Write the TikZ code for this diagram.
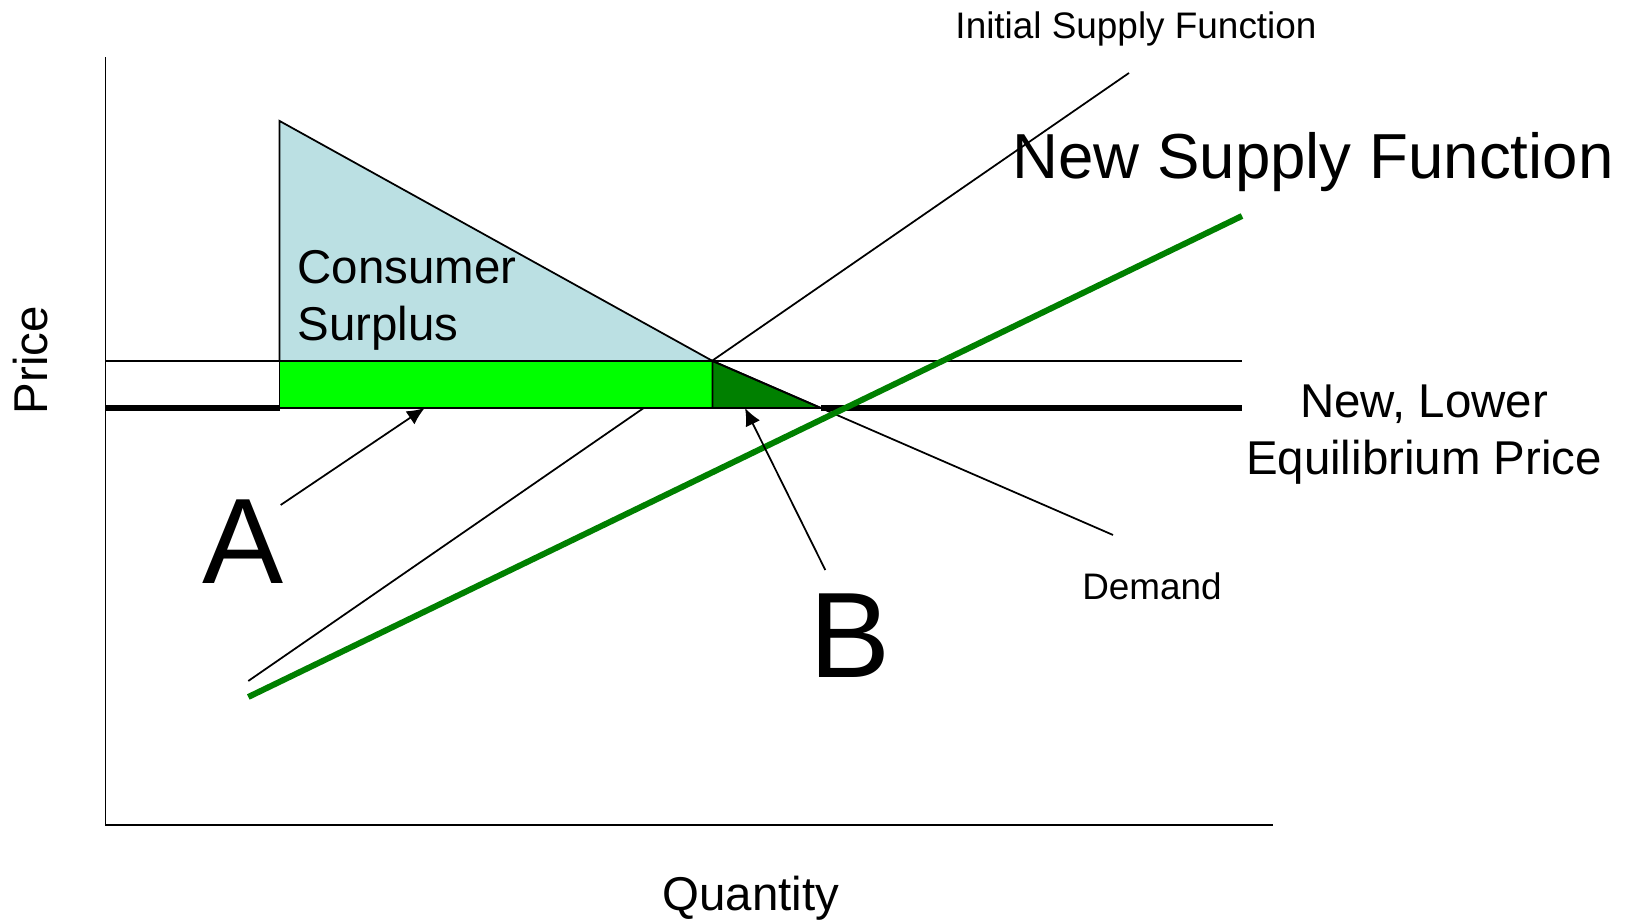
\documentclass[tikz,border=0pt]{standalone}
\usepackage{fontspec}
\setmainfont{Liberation Sans}
\usetikzlibrary{arrows.meta}

\definecolor{surplusblue}{RGB}{187,224,227}
\definecolor{lightgreen}{RGB}{0,255,0}
\definecolor{darkgreen}{RGB}{0,128,0}

\tikzset{
  thin line/.style={line width=0.5pt},
  thick line/.style={line width=1.5pt},
  supply line/.style={line width=1.7pt, darkgreen},
  pointer/.style={line width=0.5pt, -{Latex[length=5pt,width=4.5pt]}},
  small label/.style={inner sep=0pt, font=\fontsize{10.5}{12.6}\selectfont},
  mid label/.style={inner sep=0pt, align=center, font=\fontsize{13.5}{16.2}\selectfont},
  big label/.style={inner sep=0pt, font=\fontsize{18.1}{21.7}\selectfont},
  letter label/.style={inner sep=0pt, font=\fontsize{34.6}{41.5}\selectfont}
}

\begin{document}
\begin{tikzpicture}
\useasboundingbox (0, 0) rectangle (16.36, 9.22);

% axes
\coordinate (O) at (1.054, 0.97);
\coordinate (ytop) at (1.054, 8.646);
\coordinate (xend) at (12.73, 0.97);
\draw[thin line] (ytop) -- (O) -- (xend);

% price levels
\coordinate (p1left) at (1.054, 5.61);
\coordinate (p1right) at (12.42, 5.61);
\coordinate (p2left) at (1.054, 5.14);
\coordinate (p2right) at (12.42, 5.14);
\draw[thin line] (p1left) -- (p1right);

% initial supply
\coordinate (s1start) at (2.483, 2.41);
\coordinate (s1end) at (11.29, 8.49);
\draw[thin line] (s1start) -- (s1end);

% surplus areas
\coordinate (top) at (2.796, 8.01);
\coordinate (E) at (7.126, 5.61);
\coordinate (csleft) at (2.796, 5.61);
\coordinate (rectlow) at (2.796, 5.14);
\coordinate (Elow) at (7.126, 5.14);
\coordinate (Enew) at (8.21, 5.14);
\draw[thin line, fill=surplusblue] (top) -- (E) -- (csleft) -- cycle;
\draw[thin line, fill=lightgreen] (csleft) rectangle (Elow);
\draw[thin line, fill=darkgreen] (E) -- (Elow) -- (Enew) -- cycle;

% demand
\coordinate (dend) at (11.13, 3.87);
\draw[thin line] (E) -- (dend);

% lower price
\draw[thick line] (p2left) -- (rectlow);
\draw[thick line] (Enew) -- (p2right);

% new supply
\coordinate (s2start) at (2.483, 2.25);
\coordinate (s2end) at (12.42, 7.06);
\draw[supply line] (s2start) -- (s2end);

% labels
\node[mid label, rotate=90] (price) at (0.31, 5.62) {Price};
\node[mid label] (quantity) at (7.51, 0.24) {Quantity};
\node[mid label, align=left, anchor=west] (cs) at (2.97, 6.22) {Consumer\\Surplus};
\node[mid label] (newprice) at (14.24, 4.87) {New, Lower\\Equilibrium Price};
\node[small label] (initsupply) at (11.36, 8.93) {Initial Supply Function};
\node[big label] (newsupply) at (13.13, 7.60) {New Supply Function};
\node[small label] (demand) at (11.52, 3.36) {Demand};
\node[letter label] (A) at (2.43, 3.80) {A};
\node[letter label] (B) at (8.50, 2.86) {B};

% pointers
\coordinate (Atail) at (2.807, 4.17);
\coordinate (Ahead) at (4.247, 5.14);
\coordinate (Btail) at (8.253, 3.52);
\coordinate (Bhead) at (7.45, 5.14);
\draw[pointer] (Atail) -- (Ahead);
\draw[pointer] (Btail) -- (Bhead);

\end{tikzpicture}
\end{document}
